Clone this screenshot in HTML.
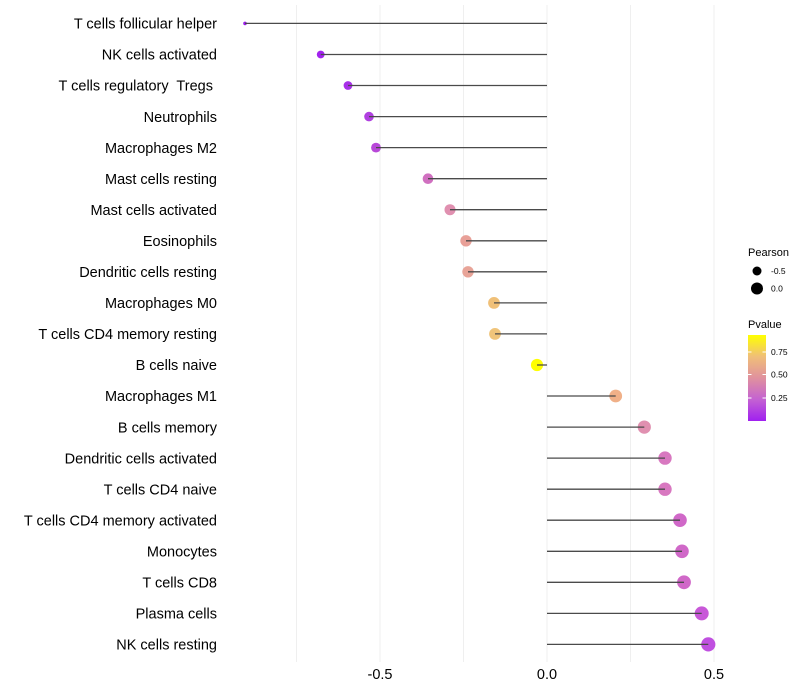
<!DOCTYPE html>
<html>
<head>
<meta charset="utf-8">
<style>
html,body{margin:0;padding:0;background:#fff;}
svg{display:block;}
text{font-family:"Liberation Sans",Arial,sans-serif;white-space:pre;}
</style>
</head>
<body>
<svg width="800" height="700" viewBox="0 0 800 700" xmlns="http://www.w3.org/2000/svg">
<defs>
<linearGradient id="pg" x1="0" y1="1" x2="0" y2="0">
<stop offset="0" stop-color="#a020f0"/>
<stop offset="0.25" stop-color="#c462d2"/>
<stop offset="0.5" stop-color="#e0919e"/>
<stop offset="0.75" stop-color="#f0bf78"/>
<stop offset="1" stop-color="#ffff00"/>
</linearGradient>
</defs>
<rect width="800" height="700" fill="#fff"/>
<!-- grid -->
<g stroke="#efefef" stroke-width="1">
<line x1="296.5" y1="5" x2="296.5" y2="662"/>
<line x1="380" y1="5" x2="380" y2="662"/>
<line x1="463.5" y1="5" x2="463.5" y2="662"/>
<line x1="547" y1="5" x2="547" y2="662"/>
<line x1="630.5" y1="5" x2="630.5" y2="662"/>
<line x1="714" y1="5" x2="714" y2="662"/>
</g>
<!-- points -->
<g>
<circle cx="245" cy="23.4" r="1.8" fill="#9a1ee9"/>
<circle cx="320.7" cy="54.5" r="3.9" fill="#a223ee"/>
<circle cx="348" cy="85.5" r="4.4" fill="#a830e8"/>
<circle cx="369" cy="116.6" r="4.8" fill="#b040e0"/>
<circle cx="376" cy="147.6" r="4.9" fill="#b848d8"/>
<circle cx="428" cy="178.7" r="5.3" fill="#d070c0"/>
<circle cx="450" cy="209.7" r="5.5" fill="#e090b0"/>
<circle cx="466" cy="240.8" r="5.7" fill="#e8a098"/>
<circle cx="468" cy="271.8" r="5.7" fill="#e8a498"/>
<circle cx="494" cy="302.9" r="5.9" fill="#f0c078"/>
<circle cx="495" cy="333.9" r="5.9" fill="#f0c47a"/>
<circle cx="537" cy="365" r="6.1" fill="#ffff00"/>
<circle cx="615.7" cy="396" r="6.4" fill="#f0b088"/>
<circle cx="644.3" cy="427.1" r="6.6" fill="#e090b0"/>
<circle cx="665" cy="458.1" r="6.7" fill="#d878c0"/>
<circle cx="665" cy="489.2" r="6.7" fill="#d878c0"/>
<circle cx="680" cy="520.2" r="6.8" fill="#d068c8"/>
<circle cx="682" cy="551.3" r="6.8" fill="#d068c8"/>
<circle cx="684" cy="582.3" r="6.9" fill="#d068c8"/>
<circle cx="701.7" cy="613.4" r="7" fill="#c858d8"/>
<circle cx="708.3" cy="644.4" r="7.1" fill="#c050e0"/>
</g>
<!-- segments -->
<g stroke="#4a4a4a" stroke-width="1.3">
<line x1="547" y1="23.4" x2="245" y2="23.4"/>
<line x1="547" y1="54.5" x2="320.7" y2="54.5"/>
<line x1="547" y1="85.5" x2="348" y2="85.5"/>
<line x1="547" y1="116.6" x2="369" y2="116.6"/>
<line x1="547" y1="147.6" x2="376" y2="147.6"/>
<line x1="547" y1="178.7" x2="428" y2="178.7"/>
<line x1="547" y1="209.7" x2="450" y2="209.7"/>
<line x1="547" y1="240.8" x2="466" y2="240.8"/>
<line x1="547" y1="271.8" x2="468" y2="271.8"/>
<line x1="547" y1="302.9" x2="494" y2="302.9"/>
<line x1="547" y1="333.9" x2="495" y2="333.9"/>
<line x1="547" y1="365" x2="537" y2="365"/>
<line x1="547" y1="396" x2="615.7" y2="396"/>
<line x1="547" y1="427.1" x2="644.3" y2="427.1"/>
<line x1="547" y1="458.1" x2="665" y2="458.1"/>
<line x1="547" y1="489.2" x2="665" y2="489.2"/>
<line x1="547" y1="520.2" x2="680" y2="520.2"/>
<line x1="547" y1="551.3" x2="682" y2="551.3"/>
<line x1="547" y1="582.3" x2="684" y2="582.3"/>
<line x1="547" y1="613.4" x2="701.7" y2="613.4"/>
<line x1="547" y1="644.4" x2="708.3" y2="644.4"/>
</g>
<!-- y labels -->
<g font-size="14.5" fill="#000" text-anchor="end">
<text x="217" y="28.6">T cells follicular helper</text>
<text x="217" y="59.7">NK cells activated</text>
<text x="217" y="90.7">T cells regulatory&#160; Tregs&#160;</text>
<text x="217" y="121.8">Neutrophils</text>
<text x="217" y="152.8">Macrophages M2</text>
<text x="217" y="183.9">Mast cells resting</text>
<text x="217" y="214.9">Mast cells activated</text>
<text x="217" y="246">Eosinophils</text>
<text x="217" y="277">Dendritic cells resting</text>
<text x="217" y="308.1">Macrophages M0</text>
<text x="217" y="339.1">T cells CD4 memory resting</text>
<text x="217" y="370.2">B cells naive</text>
<text x="217" y="401.2">Macrophages M1</text>
<text x="217" y="432.3">B cells memory</text>
<text x="217" y="463.3">Dendritic cells activated</text>
<text x="217" y="494.4">T cells CD4 naive</text>
<text x="217" y="525.4">T cells CD4 memory activated</text>
<text x="217" y="556.5">Monocytes</text>
<text x="217" y="587.5">T cells CD8</text>
<text x="217" y="618.6">Plasma cells</text>
<text x="217" y="649.6">NK cells resting</text>
</g>
<!-- x labels -->
<g font-size="14.5" fill="#000" text-anchor="middle">
<text x="380" y="679">-0.5</text>
<text x="547" y="679">0.0</text>
<text x="714" y="679">0.5</text>
</g>
<!-- legend: Pearson -->
<text x="748" y="256" font-size="11" fill="#000">Pearson</text>
<circle cx="757" cy="271" r="4.5" fill="#000"/>
<circle cx="757" cy="288.5" r="6" fill="#000"/>
<text x="771" y="274" font-size="8.5" fill="#000">-0.5</text>
<text x="771" y="291.5" font-size="8.5" fill="#000">0.0</text>
<!-- legend: Pvalue -->
<text x="748" y="328" font-size="11" fill="#000">Pvalue</text>
<rect x="748" y="335" width="18" height="86" fill="url(#pg)"/>
<g stroke="#fff" stroke-width="1">
<line x1="748" y1="352" x2="751.5" y2="352"/>
<line x1="762.5" y1="352" x2="766" y2="352"/>
<line x1="748" y1="374.5" x2="751.5" y2="374.5"/>
<line x1="762.5" y1="374.5" x2="766" y2="374.5"/>
<line x1="748" y1="398" x2="751.5" y2="398"/>
<line x1="762.5" y1="398" x2="766" y2="398"/>
</g>
<g font-size="8.5" fill="#000">
<text x="771" y="355">0.75</text>
<text x="771" y="377.5">0.50</text>
<text x="771" y="401">0.25</text>
</g>
</svg>
</body>
</html>
